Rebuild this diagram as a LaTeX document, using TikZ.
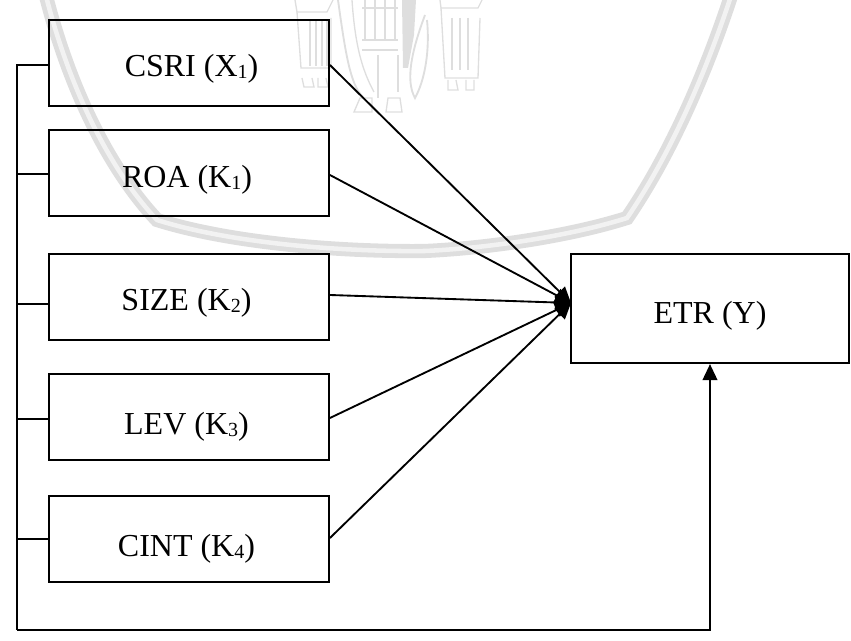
\documentclass[tikz,border=0pt]{standalone}
\usepackage{fontspec}
\setmainfont{Liberation Serif}
\usetikzlibrary{arrows.meta}
\definecolor{wmGray}{gray}{0.87}
\definecolor{wmPale}{gray}{0.95}
\newcommand{\vartext}[3]{\smash{\raisebox{-#1pt}{\kern#2pt#3\kern-#2pt}}}
\newcommand{\lowsub}[1]{\raisebox{-1.5pt}{\fontsize{15}{17}\selectfont #1}}
\tikzset{
  varbox/.style={draw, line width=1.4pt, inner sep=0pt, minimum width=210pt, minimum height=64.5pt,
    font=\fontsize{24}{29}\selectfont},
  depbox/.style={varbox, minimum width=208.5pt, minimum height=82pt},
  link/.style={line width=1.4pt},
  effect/.style={link, -{Triangle[length=12pt,width=11pt]}},
  wmline/.style={draw=wmGray, line width=1pt}
}

\begin{document}
\begin{tikzpicture}[x=0.75pt, y=-0.75pt]
  \useasboundingbox (0,0) rectangle (851,641);
  % ------- faint seal behind the chart -------
  \draw[wmGray, line width=3.6pt, double=wmPale, double distance=3.4pt]
    (46,-4) .. controls (70,90) and (110,170) .. (157,220)
    .. controls (230,243) and (340,252) .. (425,251)
    .. controls (490,248) and (570,236) .. (627,218)
    .. controls (670,155) and (705,75) .. (731,-4);
  % left figure
  \draw[wmline] (295,0) -- (297,12) -- (327,12) -- (333,0);
  \draw[wmline] (297,12) -- (301,68) -- (331,68) -- (331,18);
  \draw[wmline] (302,78) -- (304,87) -- (314,87) -- (312,78) (318,78) -- (318,87) -- (328,87) -- (326,78);
  \foreach \barx in {310,316,322,327} \draw[wmline] (\barx,20) -- (\barx,66);
  % throne and middle figure
  \draw[wmline, line width=1.4pt] (338,0) .. controls (345,50) and (350,85) .. (363,97);
  \draw[wmline] (352,0) .. controls (355,45) and (362,70) .. (374,92);
  \foreach \barx in {365,375,385,395} \draw[wmline, line width=1.4pt] (\barx,0) -- (\barx,40);
  \foreach \bary in {8,40,50} \draw[wmline, line width=1.4pt] (362,\bary) -- (398,\bary);
  \draw[wmline] (378,55) -- (378,98) (398,55) -- (398,92);
  \draw[wmline] (354,112) -- (360,98) -- (372,98) -- (372,112) -- cycle;
  \draw[wmline] (386,112) -- (388,98) -- (400,98) -- (402,112) -- cycle;
  \fill[wmGray] (402,0) -- (416,0) -- (414,35) -- (408,68) -- (403,68) -- cycle;
  \draw[wmline, line width=1.4pt] (425,15) .. controls (412,50) and (405,80) .. (415,98)
    .. controls (425,80) and (430,50) .. (427,20);
  % right figure
  \draw[wmline] (440,0) -- (441,8) -- (478,8) -- (482,0);
  \draw[wmline] (441,8) -- (445,78) -- (478,78) -- (480,18);
  \draw[wmline] (448,80) -- (448,90) -- (458,90) -- (456,80) (466,80) -- (466,90) -- (474,90) -- (474,80);
  \foreach \barx in {452,460,468} \draw[wmline, line width=1.4pt] (\barx,18) -- (\barx,70);
  % ------- variables -------
  \node[varbox] (csri) at (189,63) {\vartext{10.5}{1.9}{CSRI (X\lowsub{1})}};
  \node[varbox] (roa) at (189,173) {\vartext{11.2}{-1.5}{ROA (K\lowsub{1})}};
  \node[varbox] (size) at (189,297) {\vartext{10}{-1.9}{SIZE (K\lowsub{2})}};
  \node[varbox] (lev) at (189,417) {\vartext{13.5}{-1.9}{LEV (K\lowsub{3})}};
  \node[varbox] (cint) at (189,539) {\vartext{13.5}{-1.9}{CINT (K\lowsub{4})}};
  \node[depbox] (etr) at (710,308.5) {\vartext{11}{0}{ETR (Y)}};
  % ------- arrows into the outcome -------
  \coordinate (hub) at (571,303);
  \foreach \var/\off in {csri/-1.5,roa/-1.5,size/1.5,lev/-0.75,cint/0.75}
    \draw[effect] ([yshift=\off pt]\var.east) -- (hub);
  % ------- line along the left -------
  \coordinate (busTop) at (17,65);
  \coordinate (busRoa) at (17,174);
  \coordinate (busSize) at (17,304);
  \coordinate (busLev) at (17,419);
  \coordinate (busCint) at (17,539);
  \coordinate (busEnd) at (17,630);
  \draw[link] (busTop -| csri.west) -- (busTop) -- (busEnd);
  \draw[effect] (busEnd) -| (etr.south);
  \draw[link] (busRoa) -- (busRoa -| roa.west);
  \draw[link] (busSize) -- (busSize -| size.west);
  \draw[link] (busLev) -- (busLev -| lev.west);
  \draw[link] (busCint) -- (busCint -| cint.west);
\end{tikzpicture}
\end{document}
